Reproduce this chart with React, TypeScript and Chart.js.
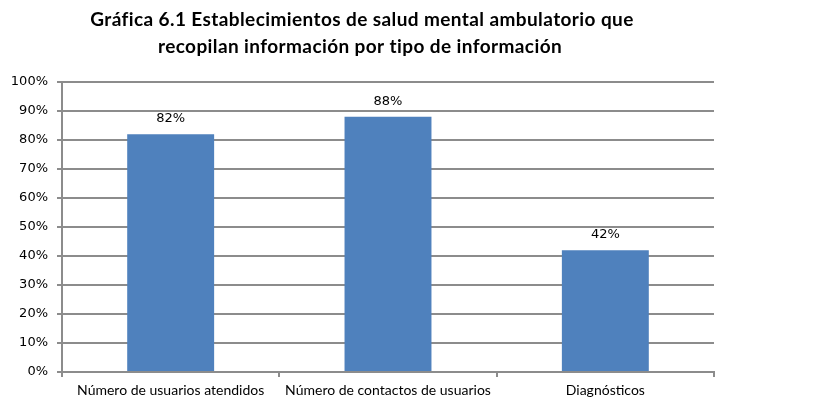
import React, { useEffect, useRef } from "react";
import { Chart, registerables } from "chart.js";

Chart.register(...registerables);

const titleLines = [
  "Gráfica 6.1 Establecimientos de salud mental ambulatorio que",
  "recopilan información por tipo de información",
];
const categories = [
  "Número de usuarios atendidos",
  "Número de contactos de usuarios",
  "Diagnósticos",
];
const values = [82, 88, 42];
const yTicks = [0, 10, 20, 30, 40, 50, 60, 70, 80, 90, 100];

const GRID = "#8c8c8c";
const BAR = "#4f81bd";

const titlePlugin = {
  id: "customTitle",
  afterDraw(chart: any) {
    const ctx = chart.ctx;
    ctx.save();
    ctx.fillStyle = "#000";
    ctx.font = "bold 19px Lato";
    try {
      (ctx as any).letterSpacing = "0.4px";
    } catch (e) {}
    ctx.textAlign = "center";
    ctx.textBaseline = "middle";
    ctx.fillText(titleLines[0], 362, 20);
    ctx.fillText(titleLines[1], 360, 47);
    ctx.restore();
  },
};

const labelPlugin = {
  id: "valueLabels",
  afterDatasetsDraw(chart: any) {
    const ctx = chart.ctx;
    const meta = chart.getDatasetMeta(0);
    ctx.save();
    ctx.fillStyle = "#000";
    ctx.font = "13px 'DejaVu Sans'";
    ctx.textAlign = "center";
    ctx.textBaseline = "bottom";
    meta.data.forEach((el: any, i: number) => {
      ctx.fillText(values[i] + "%", el.x, el.y - 9);
    });
    ctx.restore();
  },
};

export default function App() {
  const ref = useRef<HTMLCanvasElement | null>(null);
  useEffect(() => {
    document.body.style.margin = "0";
    const chart = new Chart(ref.current!, {
      type: "bar",
      data: {
        labels: categories,
        datasets: [
          {
            data: values,
            backgroundColor: BAR,
            borderWidth: 0,
            barPercentage: 0.4,
            categoryPercentage: 1,
          },
        ],
      },
      options: {
        animation: false,
        responsive: false,
        devicePixelRatio: 1,
        layout: { padding: { top: 82, right: 103, left: 0, bottom: 0 } },
        plugins: { legend: { display: false }, tooltip: { enabled: false }, title: { display: false } },
        scales: {
          x: {
            grid: {
              display: true,
              drawOnChartArea: false,
              drawTicks: true,
              tickLength: 5,
              color: GRID,
              lineWidth: 2,
              offset: true,
            },
            border: { display: true, color: GRID, width: 2 },
            ticks: {
              color: "#000",
              font: { family: "Lato", size: 14 },
              padding: 5,
              maxRotation: 0,
              autoSkip: false,
            },
            afterFit(scale: any) {
              scale.height = 30;
            },
          },
          y: {
            min: 0,
            max: 100,
            afterBuildTicks(scale: any) {
              scale.ticks = yTicks.map((v) => ({ value: v }));
            },
            grid: {
              color: GRID,
              lineWidth: 2,
              drawTicks: true,
              tickLength: 5,
            },
            border: { display: true, color: GRID, width: 2 },
            ticks: {
              color: "#000",
              font: { family: "DejaVu Sans", size: 13 },
              padding: 9,
              callback: (v: any) => v + "%",
            },
            afterFit(scale: any) {
              scale.width = 62;
            },
          },
        },
      },
      plugins: [titlePlugin, labelPlugin],
    });
    return () => chart.destroy();
  }, []);
  return <canvas ref={ref} width={817} height={402} style={{ display: "block" }} />;
}
